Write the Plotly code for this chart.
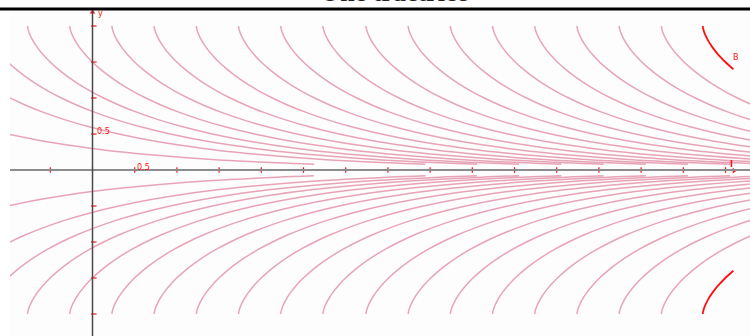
import plotly.graph_objects as go

# ---- data ----
# tractrix profile (length a = 2): height y and horizontal distance from the cusp
tractrix_y = [2.0, 1.98, 1.95, 1.9, 1.8, 1.7, 1.6, 1.5, 1.4, 1.3, 1.2, 1.1, 1.0, 0.9,
              0.8, 0.7, 0.6, 0.5, 0.4, 0.3, 0.25, 0.2, 0.15, 0.1, 0.08]
tractrix_dx = [0.0, 0.0019, 0.0076, 0.0215, 0.0624, 0.1178, 0.1863, 0.2679, 0.3629,
               0.4723, 0.5972, 0.7397, 0.9018, 1.0873, 1.3006, 1.5481, 1.8397, 2.1903,
               2.6254, 3.1918, 3.5529, 3.9965, 4.5697, 5.3791, 5.8248]
# cusp positions of the pink copies
cusps = [-3.2, -1.88, -1.27, -0.77, -0.27, 0.23, 0.73, 1.23, 1.73, 2.23, 2.73, 3.24,
         3.74, 4.24, 4.74, 5.24, 5.74, 6.24, 6.74]
# the highlighted curve B
cusp_b = 7.23
b_points = 9  # drawn from the cusp down to y = 1.4

x_ticks = [-0.5, 0, 0.5, 1, 1.5, 2, 2.5, 3, 3.5, 4, 4.5, 5, 5.5, 6, 6.5, 7, 7.5]
y_ticks = [-2, -1.5, -1, -0.5, 0.5, 1, 1.5, 2]

PINK = "rgba(200,40,85,0.42)"
RED = "#ff1010"

fig = go.Figure()

for c in cusps:
    xs = [c + d for d in tractrix_dx]
    for sign in (1, -1):
        fig.add_trace(go.Scatter(
            x=xs, y=[sign * v for v in tractrix_y], mode="lines",
            line=dict(color=PINK, width=1.5, shape="spline"),
            hoverinfo="skip", showlegend=False))

bx = [cusp_b + d for d in tractrix_dx[:b_points]]
for sign in (1, -1):
    fig.add_trace(go.Scatter(
        x=bx, y=[sign * v for v in tractrix_y[:b_points]], mode="lines",
        line=dict(color=RED, width=1.8, shape="spline"),
        hoverinfo="skip", showlegend=False))

# axis lines
fig.add_shape(type="line", x0=-1.0, x1=8.0, y0=0, y1=0,
              line=dict(color="#8c8c8c", width=2), layer="above")
fig.add_shape(type="line", x0=0, x1=0, y0=-2.4, y1=2.3,
              line=dict(color="#4a4a4a", width=1.5), layer="above")

# ticks
fig.add_trace(go.Scatter(
    x=x_ticks, y=[0] * len(x_ticks), mode="markers",
    marker=dict(symbol="line-ns", size=4, line=dict(color=RED, width=1.2)),
    hoverinfo="skip", showlegend=False, cliponaxis=False))
fig.add_trace(go.Scatter(
    x=[0.015] * len(y_ticks), y=y_ticks, mode="markers",
    marker=dict(symbol="line-ew", size=4, line=dict(color=RED, width=1.2)),
    hoverinfo="skip", showlegend=False, cliponaxis=False))

# arrow heads and point markers
fig.add_trace(go.Scatter(
    x=[0], y=[2.19], mode="markers",
    marker=dict(symbol="triangle-up", size=5, color=RED),
    hoverinfo="skip", showlegend=False, cliponaxis=False))
fig.add_trace(go.Scatter(
    x=[7.6], y=[-0.01], mode="markers",
    marker=dict(symbol="triangle-right", size=5, color=RED),
    hoverinfo="skip", showlegend=False, cliponaxis=False))
fig.add_trace(go.Scatter(
    x=[7.57], y=[0.09], mode="markers",
    marker=dict(symbol="line-ns", size=5, line=dict(color=RED, width=1.5)),
    hoverinfo="skip", showlegend=False, cliponaxis=False))

small = dict(family="DejaVu Sans", size=8, color=RED)
annotations = [
    dict(x=0.03, y=0.53, text="0.5", xanchor="left", yanchor="middle",
         showarrow=False, font=small),
    dict(x=0.5, y=0.035, text="0.5", xanchor="left", yanchor="middle",
         showarrow=False, font=small),
    dict(x=0.04, y=2.17, text="y", xanchor="left", yanchor="middle",
         showarrow=False, font=small),
    dict(x=7.56, y=1.56, text="B", xanchor="left", yanchor="middle",
         showarrow=False, font=small),
    dict(xref="paper", yref="paper", x=(394 - 10) / 740, y=1.0, yshift=1,
         text="<b>One tractrice</b>", xanchor="center", yanchor="bottom",
         showarrow=False, font=dict(family="Liberation Serif", size=26, color="#222")),
]

fig.add_shape(type="line", xref="paper", yref="paper", x0=-0.02, x1=1.01,
              y0=1 + 1 / 326, y1=1 + 1 / 326, line=dict(color="black", width=3))

fig.update_layout(
    width=750, height=336,
    margin=dict(l=10, r=0, t=10, b=0),
    paper_bgcolor="white", plot_bgcolor="#fefdfd",
    xaxis=dict(range=[-0.9775, 7.79], visible=False, fixedrange=True),
    yaxis=dict(range=[-2.3056, 2.2222], visible=False, fixedrange=True),
    annotations=annotations,
    showlegend=False,
)

fig.write_html("out.html", config={"displayModeBar": False},
               post_script="document.body.style.margin='0';document.body.style.overflow='hidden';")
